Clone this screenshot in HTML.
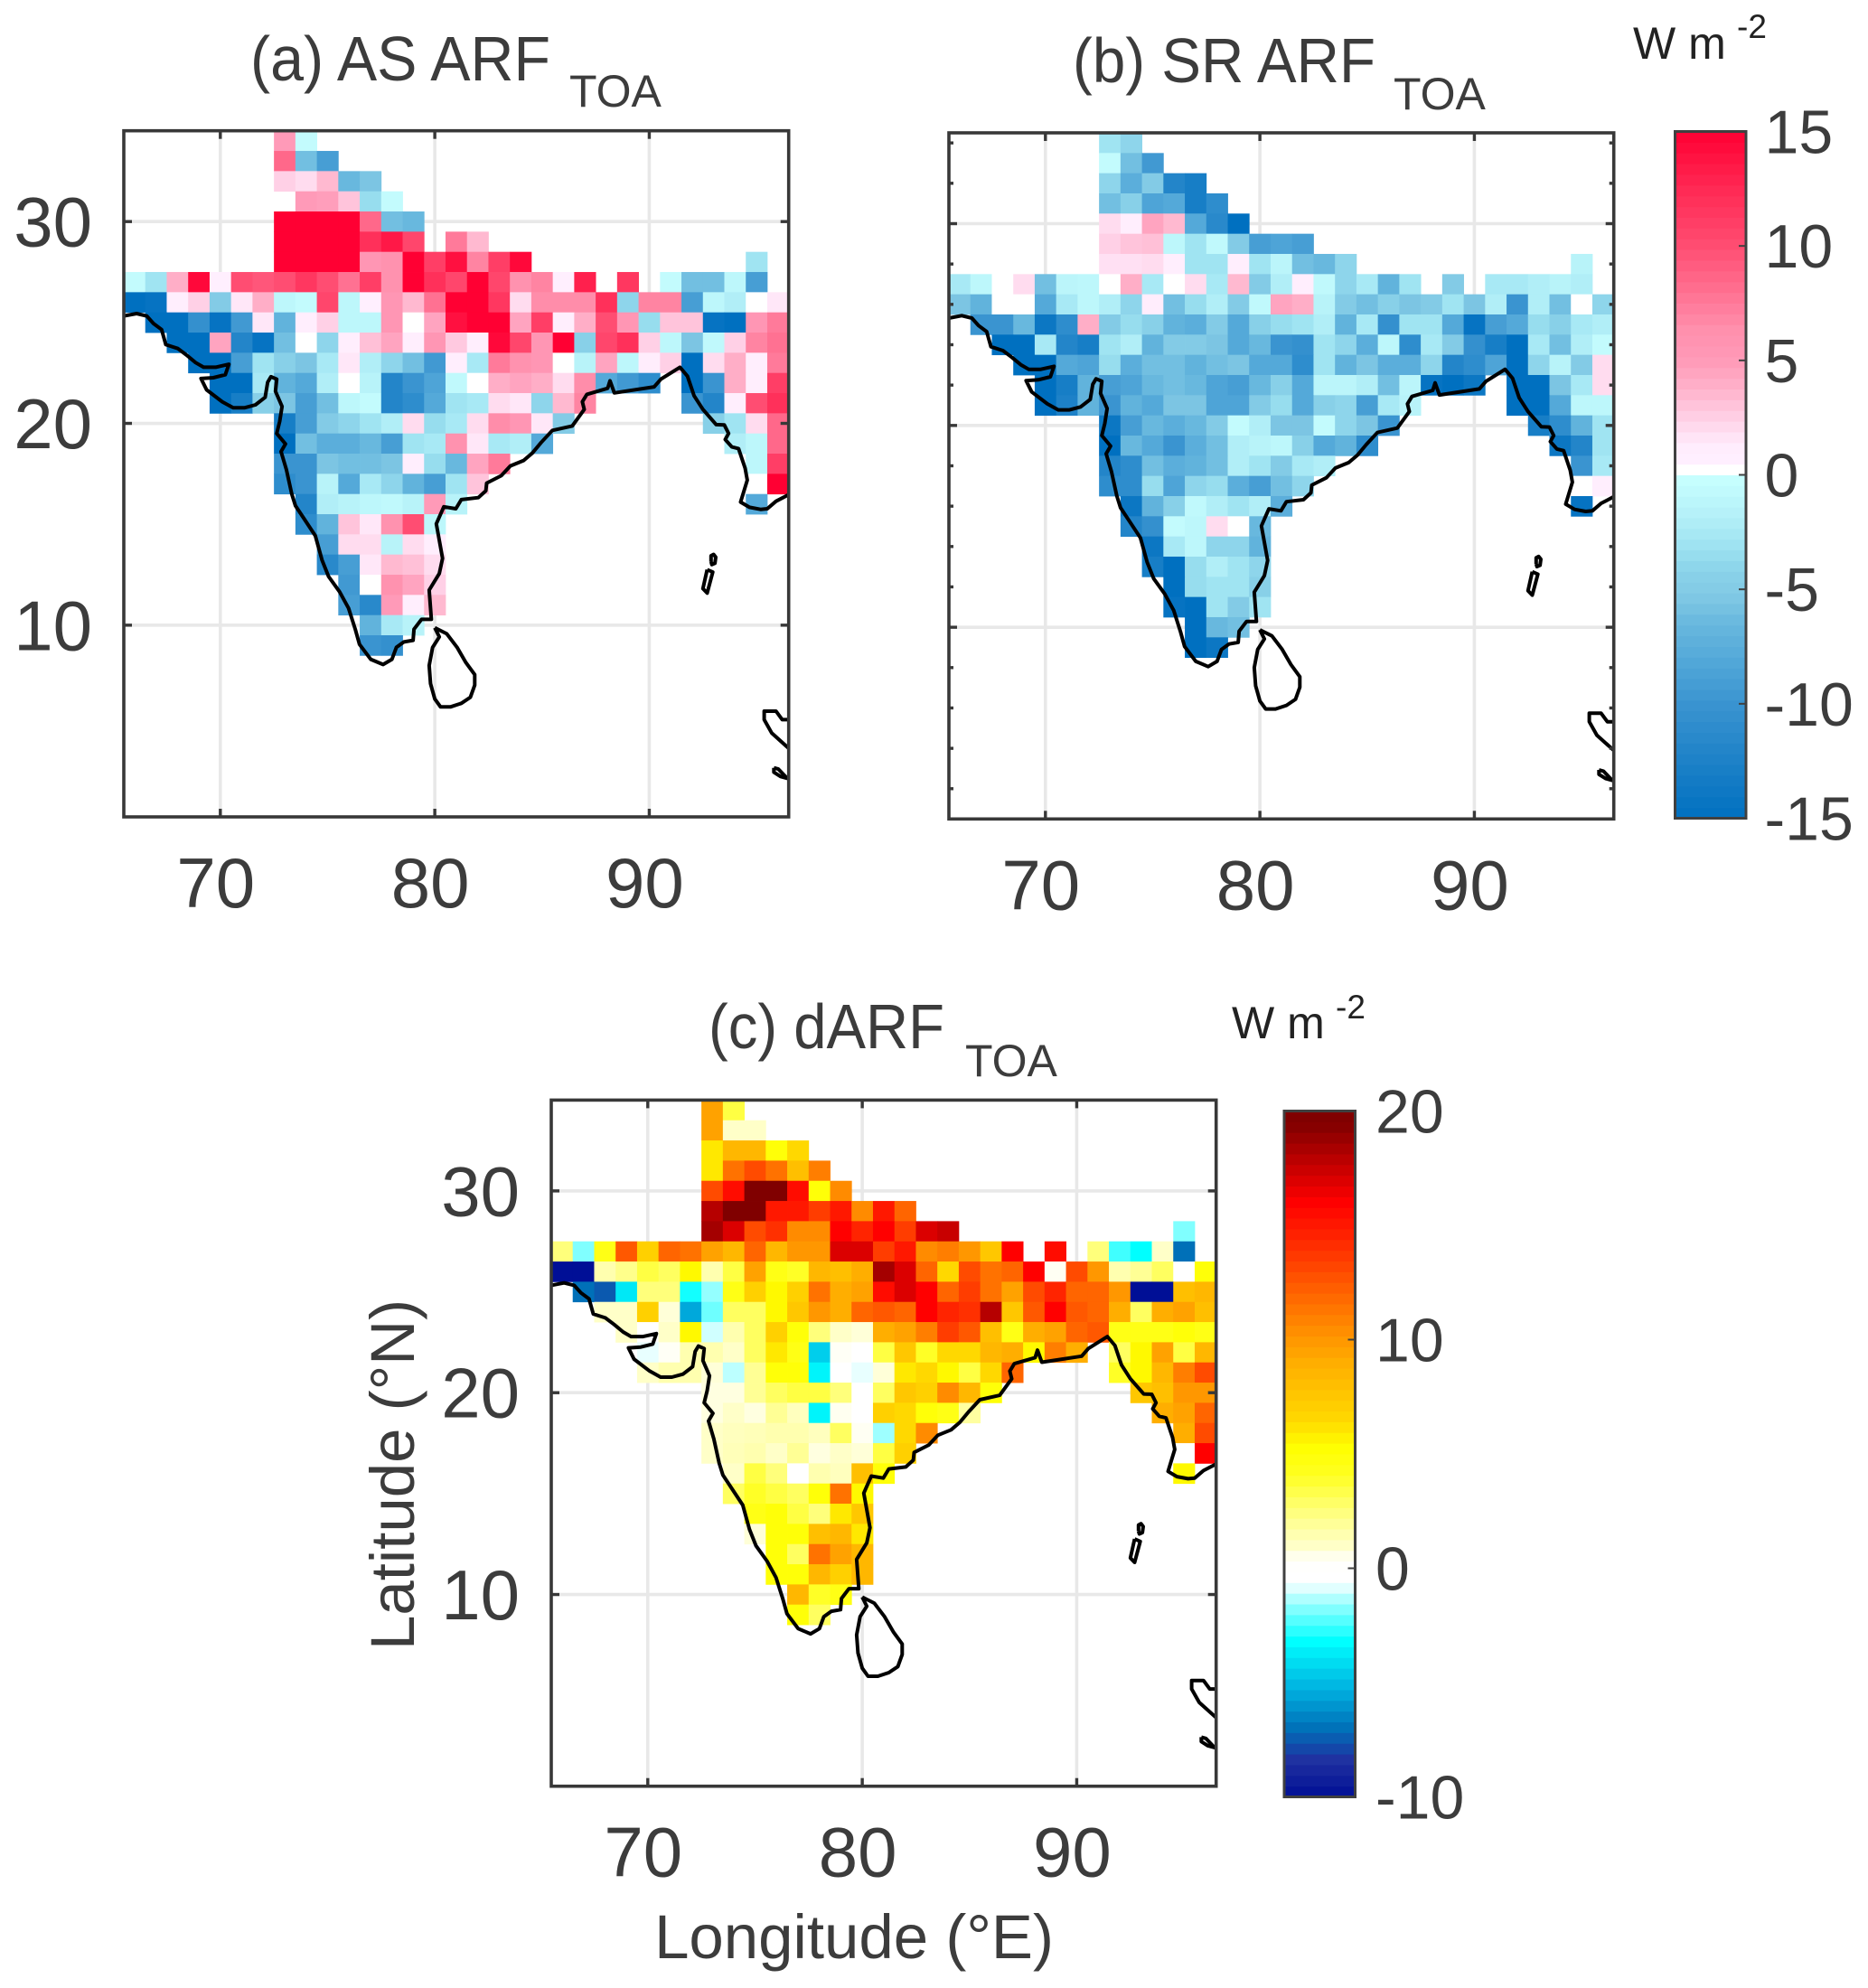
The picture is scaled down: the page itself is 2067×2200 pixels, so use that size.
<!DOCTYPE html>
<html>
<head>
<meta charset="utf-8">
<title>ARF maps</title>
<style>
html,body{margin:0;padding:0;background:#fff;}
svg{display:block;}
text{font-family:"Liberation Sans",sans-serif;fill:#3c3c3c;}
</style>
</head>
<body>
<svg id="figure" xmlns="http://www.w3.org/2000/svg" width="2067" height="2200" viewBox="0 0 2067 2200">
  <text x="277" y="89" font-size="70" textLength="332" lengthAdjust="spacingAndGlyphs">(a) AS ARF</text>
  <text x="630" y="118" font-size="50">TOA</text>
  <text x="1187" y="91" font-size="70" textLength="335" lengthAdjust="spacingAndGlyphs">(b) SR ARF</text>
  <text x="1542" y="121" font-size="50">TOA</text>
  <text x="784" y="1160" font-size="70" textLength="261" lengthAdjust="spacingAndGlyphs">(c) dARF</text>
  <text x="1068" y="1191" font-size="50">TOA</text>
  <text x="1807" y="65" font-size="50" style="fill:#222">W m</text>
  <text x="1922" y="42" font-size="37" style="fill:#222">-2</text>
  <text x="1363" y="1149" font-size="50" style="fill:#222">W m</text>
  <text x="1478" y="1127" font-size="37" style="fill:#222">-2</text>
  <text x="945" y="2167" font-size="69" text-anchor="middle">Longitude (°E)</text>
  <text transform="translate(458,1632) rotate(-90)" font-size="69" text-anchor="middle">Latitude (°N)</text>
</svg>
<script>
// Each row: latitude, first longitude, then one value per 1° cell (null = no data).
const asRows = [
[34,73,5,-0.5],
[33,73,8.5,-6,-9],
[32,73,2.5,2,3.5,-6.5,-5.5],
[31,74,5,4.8,3,-3.5,-0.5],
[30,73,15,15,15,15,8.5,-6,-6.5],
[29,73,15,15,15,15,12,13.5,10.5,null,7.5,3.5],
[28,73,15,15,15,15,5.5,6,15,11,14,7,11,14.5,null,null,null,null,null,null,null,null,null,null,-3],
[27,66,-0.5,-3,4,14.5,0.8,10,9.5,10,11.5,10,8,11,6,15,12,10.5,15,10.5,6,7,0.8,13,null,11.5,null,-0.5,-6,-6,-1,-9],
[26,66,-15,-14.5,1,2.5,-5,1.5,4,-1,-0.5,10.5,-1,0.8,5.5,3.5,8,15,15,11.5,2,6.5,6.5,6.5,12,-4,7,7,-9,-1,-2,0,1.5],
[25,67,-15,-15,-10.5,-14.5,-9.5,1.5,-7,1,2.5,-1,-1,5.5,0,4.5,14,15,15,4.5,11,1,4,10,5.5,-3.5,3,3,-14.5,-15,5.5,7.5],
[24,68,-15,-15,4.5,-12,-14.5,-6,0,-4,1,3.2,4.5,1,5.5,2.8,1,14.5,10.5,5.5,15,-4.5,10.5,12,2.5,-1,-5.5,-0.8,2.5,7,8],
[23,69,-15,-15,-9,-3,-4.5,-5.5,-2.5,1.5,-2,-4,-6,-9.5,1,-2.5,7.5,6,5.5,0,-1.5,4.5,-1,1.2,2.5,-15,2,4,1,7.5],
[22,70,-15,-15,-2.5,-7,-8,-2,0,-1.5,-12,-10,-8.5,-0.8,0,4,4.5,4,2,6.5,-8,-9.5,-11,null,-15,-10,4,1,11],
[21,70,-15,-13,-4.5,-5.5,-9,-6,-1,-0.5,-12,-11,-8,-3,-2.5,2,1.5,-4,3.5,7,null,null,null,null,-10,-12,1,10,12],
[20,73,-13,-9,-5,-4,-3,-2,2,-3.5,-2.5,2,6.5,5.5,1.5,-5,null,null,null,null,null,null,-4.5,-3,2,8.5],
[19,73,-15,-6,-7.5,-7.5,-6.5,-9,-3,-2.5,6,1.5,-2.5,-2,-8,null,null,null,null,null,null,null,null,-2,-1,8.5],
[18,73,-10,-10,-5.5,-6,-6,-5.5,1,-3.5,-6.5,4.5,7.5,null,null,null,null,null,null,null,null,null,null,null,-1,11],
[17,73,-11,-10,-1.5,-8,-2.5,-4,-7,-9,-3,3,null,null,null,null,null,null,null,null,null,null,null,null,0,15],
[16,74,-12,-2,-1.5,-1,-0.8,-1.5,5,-1.5,null,null,null,null,null,null,null,null,null,null,null,null,null,-8],
[15,74,-11,-7,3,1.5,6,10,-1],
[14,75,-9,2,2,-1.5,2,1],
[13,75,-11.5,-9,1.5,3.5,3.2,2],
[12,76,-9.5,0,6,4.5,2.5],
[11,76,-9,-11.5,5,1,3.5],
[10,77,-7,-2.5,-1.5],
[9,77,-10,-10.5]
];
const srRows = [
[34,73,-3,-4],
[33,73,-0.5,-6,-9.5],
[32,73,-4,-7.5,-5,-12,-13],
[31,73,-6,-4.5,-8.5,-8,-13,-11],
[30,73,2,1,4.5,3.5,-8,-11.5,-15],
[29,73,2.5,3,3.2,-1,-3,-0.8,-5,-9,-8.5,-9],
[28,73,1.8,1.8,2,1,-3,-3,1,-3,-1.2,-6,-6.5,-4,null,null,null,null,null,null,null,null,null,null,-1.5],
[27,66,-2.5,-1,0,2,-6,-1.2,-1,0,4,-2.5,0,2,-2.5,3.5,-5,-2,1,-0.8,-4,-2.5,-7,-3,null,-5,null,-2.5,-2.5,-2,-1.5,-2],
[26,66,-5.5,-7,0,0,-8,-2.5,-1,-2,-4,1.2,-6,-3.5,-2,-5,-0.8,4.5,4,-1.5,-5,-6,-4.5,-5.5,-5,-3,-5.5,-2,-10,-2,-6,0,-4],
[25,67,-10,-10,-6.5,-14,-11,4,-5,-3.5,-4.5,-7,-7.5,-5,-8,-4.5,-3.5,-3,-2,-7,-2.5,-10.5,-3,-3,-8,-14.5,-9,-8,-3.5,-4.5,-2.5,-2],
[24,68,-15,-15,-2.5,-12,-13,-3,-2,-7,-5,-5,-5.5,-8,-6.5,-10,-10.5,-3,-4,-7.5,-1,-11,-2.5,-5,-10.5,-13,-15,-2.5,-6,-2,-0.5],
[23,69,-15,-15,-8,-8.5,-3.5,-7.5,-6,-6,-7,-6,-5.5,-8,-8,-11,-3,-7,-5.5,-7.5,-7.5,-4,-12,-11,-8.5,-15,-4,-1.5,-5,2],
[22,70,-15,-13,-7,-9,-8.5,-6.5,-6,-6.5,-8.5,-9,-6.5,-4.5,-8,-1.2,-1.2,-2,-6,-1.2,-14.5,-15,-14,null,-15,-15,-5.5,-2.5,2],
[21,70,-15,-12.5,-7,-10,-7,-8,-5.5,-5.5,-8.5,-8.5,-5,-3.5,-8,-4.5,-4,-9,-2.5,-1.5,null,null,null,null,-15,-15,-8,-1,-1],
[20,73,-14,-9,-6.5,-7.5,-6.5,-5,-0.5,-2,-5.5,-5.5,-0.5,-4,-5.5,-10,null,null,null,null,null,null,-13,-11,-7,-3],
[19,73,-15,-6.5,-8,-10,-7.5,-6,-2,-1.5,-1,-4.5,-8,-7,-11,null,null,null,null,null,null,null,null,-14,-12,-3],
[18,73,-12,-11,-6,-7.5,-7,-6,-2,-3,-5,-2.5,-2,null,null,null,null,null,null,null,null,null,null,null,-10,-2.5],
[17,73,-11,-11,-3.5,-8.5,-4,-3.5,-7.5,-9,-6,-4,null,null,null,null,null,null,null,null,null,null,null,null,0,1],
[16,74,-14,-7,-4.5,-0.8,-2,-3,-2,-7.5,null,null,null,null,null,null,null,null,null,null,null,null,null,-14.5],
[15,74,-12,-10.5,-0.5,-1,2,0,-6.5],
[14,75,-14,-2.5,-1,-4,-4,-7],
[13,75,-13,-15,-3.5,-2,-3,-4],
[12,76,-15,-3.5,-3,-3,-4.5],
[11,76,-14.5,-15,-3,-5,-3],
[10,77,-15,-6.5,-6],
[9,77,-15,-14]
];
const dRows = [
[34,73,9.5,3.5],
[33,73,9.5,1,1],
[32,73,6,8.5,8.5,5,6.5],
[31,73,6,11.5,13,11.5,8,11],
[30,73,13,15.5,19.5,19.5,15.5,5,10.5],
[29,73,18,19.5,19.5,15,15,13.5,15,10.5,15,12],
[28,73,18.5,17,13,14,10.5,10.5,16,14.5,16,13.5,17,17.5,null,null,null,null,null,null,null,null,null,null,-1.8],
[27,66,2.5,-1.8,4.5,12.5,7,12,11.5,9.5,8.5,12,8.5,10,10,17,17,13.5,15,10.5,11,10,7.5,16,null,15.5,null,2.5,-2.5,-3.2,1,-7],
[26,66,-10,-10,1.5,2.2,3.5,3,5.5,1.5,3.5,9.5,4.5,4,8.5,8,9,18.5,17,12,6.5,13,11.5,12,16,0.4,13,10,1.5,2,3,0,5],
[25,67,-7,-7.5,-3.8,2.5,2.5,-3,-1.6,4.5,7,5.5,7,11.5,9,9.5,15.5,17,16,12,13.5,11.5,9.5,13,14.5,12,12,10,-10,-10,8,8.5],
[24,68,1,1,7,0.8,-5.5,-2,3,3,5.5,7.5,10,9,12,12.5,12,16,14.5,14,18,7.5,12.5,16,12.5,12,9,3,9,9.5,8],
[23,69,1,0,1,5.5,-1,1.5,3,7,5,2.5,1,0.8,9,9.5,11,13.5,12.5,8,4.5,9,9.5,12,12.5,4.5,4.5,4.5,5,4.5],
[22,70,-0.8,0.3,1.5,1.5,1,3,6,4.5,-4.5,0.3,0,3.5,7.5,4,6.5,6.5,8.5,9,5.5,11,9,null,3,5.5,9.5,3.5,8.5],
[21,70,1,1.5,1.5,0.8,-1.2,2,5,5,-3.5,0,-0.8,0.8,6,6.5,5.5,3.5,6.5,12,null,null,null,null,4,5.5,8.5,11,13],
[20,73,0.7,0.7,2,3,3.5,3.5,2.5,0,3,7.5,7,10.5,8.5,5,null,null,null,null,null,null,7.5,8,10,10],
[19,73,0.7,1,0.7,2,1.2,-3.5,0.5,0,7,6.5,5,4.5,1.8,null,null,null,null,null,null,null,null,9,9.5,12],
[18,73,1,1.2,1.3,1.5,1.5,1.2,3,0.4,-1.5,6.5,10.5,null,null,null,null,null,null,null,null,null,null,null,9,13],
[17,73,1,1.3,1.5,1,2,0.7,1,0.8,3.5,7,null,null,null,null,null,null,null,null,null,null,null,null,0,16],
[16,74,1,3.5,2.5,0,1.5,1.2,8,5,null,null,null,null,null,null,null,null,null,null,null,null,null,5.5],
[15,74,3,4,3.5,3,5,11.5,5.5],
[14,75,4.5,5,3.5,2.5,6,7.5],
[13,75,0.8,5,5,8,8.5,6],
[12,76,5,3,11.5,9.5,8.5],
[11,76,5,5,8.5,7,8.5],
[10,77,8.5,4,4.5],
[9,77,5,3]
];
// Coastlines as [longitude, latitude].
const mainlandCoast = [[65.5,25.32],[66.1,25.44],[66.57,25.32],[66.88,24.95],[67.26,24.65],[67.46,23.9],[68.02,23.71],[68.43,23.38],[68.85,23.01],[69.22,22.78],[69.78,22.78],[70.4,22.93],[70.23,22.41],[69.67,22.26],[69.1,22.22],[69.36,21.66],[70.09,21.07],[70.6,20.77],[71.12,20.77],[71.64,20.92],[72.09,21.29],[72.21,22.04],[72.36,22.31],[72.63,22.19],[72.57,21.59],[72.88,20.84],[72.77,20.1],[72.63,19.5],[73.04,18.98],[72.83,18.6],[73.08,17.71],[73.33,16.51],[73.5,15.92],[74.01,15.1],[74.43,14.43],[74.74,13.23],[75.05,12.41],[75.56,11.66],[75.98,10.84],[76.29,9.8],[76.49,9.05],[77.01,8.31],[77.59,8.05],[78,8.31],[78.21,8.9],[78.56,9.17],[78.99,9.25],[79.03,9.8],[79.38,10.29],[79.84,10.29],[79.74,11.74],[80.21,12.56],[80.36,13.31],[80.07,15.02],[80.42,15.87],[80.98,15.77],[81.24,16.22],[82.03,16.32],[82.38,16.66],[82.42,17.04],[83.1,17.41],[83.52,17.89],[84.14,18.16],[84.55,18.53],[84.96,19.05],[85.48,19.65],[86.41,19.87],[86.97,20.69],[86.88,21.07],[87.09,21.44],[88.06,21.74],[88.17,22.11],[88.37,21.51],[90.23,21.81],[90.54,22.19],[91.43,22.78],[91.78,22.34],[92.09,21.37],[92.5,20.69],[93.12,19.94],[93.5,19.92],[93.7,19.5],[93.54,19.2],[93.85,18.83],[94.16,18.75],[94.47,17.78],[94.57,17.19],[94.26,16.1],[94.67,15.84],[95.19,15.74],[95.5,15.77],[95.91,16.14],[96.5,16.47]];
const sriLankaCoast = [[80,9.87],[80.56,9.57],[81.04,8.9],[81.45,8.15],[81.86,7.55],[81.86,7.03],[81.66,6.43],[81.24,6.13],[80.73,5.95],[80.27,5.95],[80,6.35],[79.8,7.1],[79.74,8],[79.9,8.9],[80.21,9.42],[80,9.87]];
const andamanNorthCoast = [[92.88,13.14],[92.88,13.44],[93,13.51],[93.1,13.37],[93.06,13.07],[92.92,13],[92.88,13.14]];
const andamanSouthCoast = [[92.7,12.75],[92.96,12.63],[92.7,11.59],[92.5,11.81],[92.7,12.75]];
const sumatraCoast = [[96.5,5.32],[96.2,5.32],[95.91,5.74],[95.36,5.74],[95.36,5.32],[95.71,4.65],[96.5,3.9]];
const simeulueCoast = [[95.81,2.93],[96.02,2.87],[96.43,2.41],[96.12,2.5],[95.81,2.71],[95.81,2.93]];
// Axis ticks
const lonTicks = [70,80,90];
const latTicks = [30,20,10];
const srMinorLatTicks = [34,32,28,26,24,22,18,16,14,12,8,6,4,2];
const topBarTicks = [15,10,5,0,-5,-10,-15];
const bottomBarTicks = [20,10,0,-10];
// Colour maps: [value, colour]
const blueRedStops = [[-15,'#0070c0'],[-12.4,'#1e82c8'],[-10,'#3a94d0'],[-7.7,'#58acda'],[-6.5,'#68b8de'],[-5.3,'#80c8e4'],[-4.1,'#8cd4ea'],[-3,'#a0e4f2'],[-1.8,'#b4f0f8'],[-0.1,'#c8ffff'],[0,'#ffffff'],[0.5,'#ffffff'],[0.6,'#fff0ff'],[1.3,'#ffecfc'],[2.5,'#ffd0e6'],[3.7,'#ffb4cc'],[5,'#ff9ab8'],[6.4,'#ff8fac'],[7.6,'#ff7898'],[10,'#ff4d72'],[12.4,'#ff2a55'],[15,'#ff0033']];
const jetLikeStops = [[-10,'#000f96'],[-8.4,'#2030a0'],[-7,'#0070b8'],[-5.3,'#00b0e0'],[-3.2,'#00ffff'],[-1.8,'#80ffff'],[-1,'#d0ffff'],[-0.6,'#ffffff'],[0,'#ffffff'],[0.5,'#fffff0'],[1,'#ffffc8'],[1.8,'#ffffa0'],[3,'#ffff60'],[4.1,'#ffff20'],[5.3,'#ffff00'],[6.5,'#ffd800'],[8.9,'#ffb000'],[10.3,'#ff9000'],[12.2,'#ff6000'],[14,'#ff3000'],[16,'#ff0000'],[17.4,'#cc0000'],[19.5,'#800000'],[20,'#800000']];

const SVGNS = 'http://www.w3.org/2000/svg';
const svg = document.getElementById('figure');
const LON_MIN = 65.5, LON_MAX = 96.5, LAT_MIN = 0.5, LAT_MAX = 34.5;

function hexRgb(h){return [parseInt(h.substr(1,2),16),parseInt(h.substr(3,2),16),parseInt(h.substr(5,2),16)];}
function colorFor(stops,v){
  if(v<=stops[0][0]) return stops[0][1];
  for(let i=1;i<stops.length;i++){
    if(v<=stops[i][0]){
      const a=stops[i-1],b=stops[i],t=(v-a[0])/(b[0]-a[0]);
      const ca=hexRgb(a[1]),cb=hexRgb(b[1]);
      return 'rgb('+ca.map((c,k)=>Math.round(c+(cb[k]-c)*t)).join(',')+')';
    }
  }
  return stops[stops.length-1][1];
}
function node(tag,parent,attrs){
  const el=document.createElementNS(SVGNS,tag);
  for(const k in attrs) el.setAttribute(k,attrs[k]);
  parent.appendChild(el);
  return el;
}
function drawCoast(g,points,xs,ys,name){
  const el=node('polyline',g,{points:points.map(p=>xs(p[0]).toFixed(1)+','+ys(p[1]).toFixed(1)).join(' '),fill:'none',stroke:'#000','stroke-width':4,'stroke-linejoin':'round'});
  
  
}
function drawPanel(id,rows,stops,left,top,w,h,minorLat){
  const xs=lon=>left+(lon-LON_MIN)/(LON_MAX-LON_MIN)*w;
  const ys=lat=>top+(LAT_MAX-lat)/(LAT_MAX-LAT_MIN)*h;
  const g=node('g',svg,{});
  
  
  const clip=node('clipPath',g,{id:id+'-clip'});
  node('rect',clip,{x:left,y:top,width:w,height:h});

  lonTicks.forEach(t=>{
    const line=node('line',g,{x1:xs(t),x2:xs(t),y1:top,y2:top+h,stroke:'#e8e8e8','stroke-width':3.6});
    
    
  });
  latTicks.forEach(t=>{
    const line=node('line',g,{x1:left,x2:left+w,y1:ys(t),y2:ys(t),stroke:'#e8e8e8','stroke-width':3.6});
    
    
  });

  rows.forEach(row=>{
    const lat=row[0],first=row[1];
    for(let i=2;i<row.length;i++){
      const v=row[i];
      if(v===null) continue;
      const lon=first+i-2;
      const x0=xs(lon-0.5),x1=xs(lon+0.5),y0=ys(lat+0.5),y1=ys(lat-0.5);
      const cell=node('rect',g,{x:x0.toFixed(2),y:y0.toFixed(2),width:(x1-x0+0.4).toFixed(2),height:(y1-y0+0.4).toFixed(2),fill:colorFor(stops,v)});
      
      
    }
  });

  const coast=node('g',g,{'clip-path':'url(#'+id+'-clip)'});
  drawCoast(coast,mainlandCoast,xs,ys,id+'-coast-mainland');
  drawCoast(coast,sriLankaCoast,xs,ys,id+'-coast-sri-lanka');
  drawCoast(coast,andamanNorthCoast,xs,ys,id+'-coast-andaman-north');
  drawCoast(coast,andamanSouthCoast,xs,ys,id+'-coast-andaman-south');
  drawCoast(coast,sumatraCoast,xs,ys,id+'-coast-sumatra');
  drawCoast(coast,simeulueCoast,xs,ys,id+'-coast-simeulue');

  const frame=node('rect',g,{x:left,y:top,width:w,height:h,fill:'none',stroke:'#383838','stroke-width':3.6});
  
  

  lonTicks.forEach(t=>{
    const tickA=node('line',g,{x1:xs(t),x2:xs(t),y1:top,y2:top+9,stroke:'#383838','stroke-width':3.4});
    
    
    const tickB=node('line',g,{x1:xs(t),x2:xs(t),y1:top+h,y2:top+h-9,stroke:'#383838','stroke-width':3.4});
    
    
    const label=node('text',g,{x:xs(t)-5,y:top+h+100,'font-size':78,'text-anchor':'middle'});
    label.textContent=t;
    
    
  });
  latTicks.forEach(t=>{
    const tickA=node('line',g,{x1:left,x2:left+9,y1:ys(t),y2:ys(t),stroke:'#383838','stroke-width':3.4});
    
    
    const tickB=node('line',g,{x1:left+w,x2:left+w-9,y1:ys(t),y2:ys(t),stroke:'#383838','stroke-width':3.4});
    
    
  });
  minorLat.forEach(t=>{
    const tickA=node('line',g,{x1:left,x2:left+5,y1:ys(t),y2:ys(t),stroke:'#383838','stroke-width':3.4});
    
    
    const tickB=node('line',g,{x1:left+w,x2:left+w-5,y1:ys(t),y2:ys(t),stroke:'#383838','stroke-width':3.4});
    
    
  });
  return {xs,ys,g};
}
function latLabels(panel,id,rightEdge){
  latTicks.forEach(t=>{
    const label=node('text',panel.g,{x:rightEdge,y:panel.ys(t)+27.5,'font-size':78,'text-anchor':'end'});
    label.textContent=t;
    
    
  });
}
function drawColorbar(id,stops,ticks,left,top,w,h,labelX){
  const vmin=ticks[ticks.length-1],vmax=ticks[0];
  const ys=v=>top+(vmax-v)/(vmax-vmin)*h;
  const g=node('g',svg,{});
  
  
  const LEVELS=64;
  for(let k=0;k<LEVELS;k++){
    const lo=vmin+(vmax-vmin)*k/LEVELS,hi=vmin+(vmax-vmin)*(k+1)/LEVELS;
    const band=node('rect',g,{x:left,y:ys(hi).toFixed(2),width:w,height:(ys(lo)-ys(hi)+0.5).toFixed(2),fill:colorFor(stops,(lo+hi)/2)});
    
    
  }
  const frame=node('rect',g,{x:left,y:top,width:w,height:h,fill:'none',stroke:'#404040','stroke-width':3});
  
  
  ticks.forEach(t=>{
    if(t!==vmin&&t!==vmax){
      const tick=node('line',g,{x1:left+w-8,x2:left+w,y1:ys(t),y2:ys(t),stroke:'#404040','stroke-width':2});
      
      
    }
    const label=node('text',g,{x:labelX,y:ys(t)+24,'font-size':68});
    label.textContent=t;
    
    
  });
}
const panelA=drawPanel('panel-a',asRows,blueRedStops,137,144.7,735.7,759.3,[]);
latLabels(panelA,'panel-a',102);
const panelB=drawPanel('panel-b',srRows,blueRedStops,1050,147,735.7,759.3,srMinorLatTicks);
const panelC=drawPanel('panel-c',dRows,jetLikeStops,610,1217.4,735.7,759.3,[]);
latLabels(panelC,'panel-c',575);
drawColorbar('colorbar-top',blueRedStops,topBarTicks,1853.5,145.5,78.5,760,1952.5);
drawColorbar('colorbar-bottom',jetLikeStops,bottomBarTicks,1421,1229.5,78.5,759,1522);
</script>
</body>
</html>
